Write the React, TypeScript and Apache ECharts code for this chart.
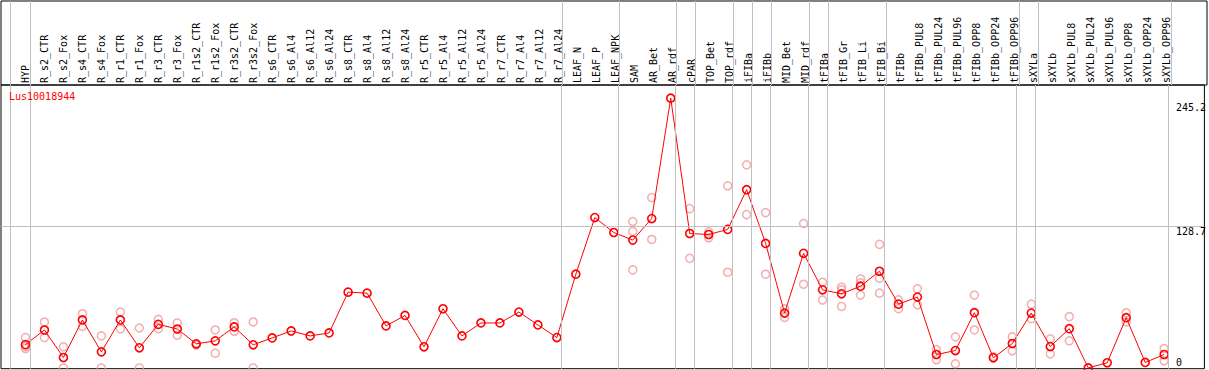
import React, { useEffect, useRef } from "react";
import * as echarts from "echarts";

const categories = [
  "HYP", "R_s2_CTR", "R_s2_Fox", "R_s4_CTR", "R_s4_Fox", "R_r1_CTR", "R_r1_Fox", "R_r3_CTR", "R_r3_Fox",
  "R_r1s2_CTR", "R_r1s2_Fox", "R_r3s2_CTR", "R_r3s2_Fox", "R_s6_CTR", "R_s6_Al4", "R_s6_Al12", "R_s6_Al24",
  "R_s8_CTR", "R_s8_Al4", "R_s8_Al12", "R_s8_Al24", "R_r5_CTR", "R_r5_Al4", "R_r5_Al12", "R_r5_Al24",
  "R_r7_CTR", "R_r7_Al4", "R_r7_Al12", "R_r7_Al24", "LEAF_N", "LEAF_P", "LEAF_NPK", "SAM", "AR_Bet", "AR_rdf",
  "cPAR", "TOP_Bet", "TOP_rdf", "iFIBa", "iFIBb", "MID_Bet", "MID_rdf", "tFIBa", "tFIB_Gr", "tFIB_Li", "tFIB_Bi",
  "tFIBb", "tFIBb_PUL8", "tFIBb_PUL24", "tFIBb_PUL96", "tFIBb_OPP8", "tFIBb_OPP24", "tFIBb_OPP96",
  "sXYLa", "sXYLb", "sXYLb_PUL8", "sXYLb_PUL24", "sXYLb_PUL96", "sXYLb_OPP8", "sXYLb_OPP24", "sXYLb_OPP96",
];

const meanValues = [
  21.2, 34.5, 9.5, 43.6, 14.6, 43.6, 18.3, 39.6, 35.4, 21.9, 24.6, 37.3, 21.0, 27.3, 33.6, 29.1, 31.8,
  68.9, 68.0, 38.2, 47.7, 19.2, 53.8, 29.1, 40.9, 40.9, 50.8, 39.1, 27.6, 85.2, 136.7, 123.1, 116.2, 135.8, 245.2,
  122.2, 121.3, 125.9, 162.0, 113.2, 49.9, 104.2, 71.0, 67.4, 74.3, 87.9,
  58.0, 64.4, 12.2, 15.8, 50.2, 9.2, 22.2,
  49.9, 19.4, 35.7, 0, 4.7, 45.7, 5.0, 12.2,
];

const replicateValues: number[][] = [
  [27.6, 19.4, 17.6], [41.8, 27.6], [19.2, 0], [49.3, 37.8], [29.1, 0], [50.8, 35.4], [36.3, 0], [44.1, 35.7], [40.9, 29.7],
  [21.2, 20.8], [34.5, 13.4], [41.1, 33.3], [41.8, 0], [], [], [], [],
  [], [], [], [], [], [], [], [],
  [], [], [], [], [], [], [], [133.1, 124.1, 89.1], [154.8, 116.8], [],
  [144.8, 99.6], [123.7, 118.3], [165.6, 87.0], [184.6, 139.4], [141.2, 85.2], [53.8, 45.9], [131.3, 76.1], [77.9, 61.7], [73.4, 71.0, 55.9], [80.9, 77.3, 66.2], [112.3, 81.6, 68.0],
  [61.9, 53.8], [71.9, 57.4], [16.7, 7.4], [28.2, 3.8], [66.2, 34.5], [10.4], [28.2, 15.6],
  [58.0, 44.8], [26.4, 12.8], [46.6, 24.6], [], [], [50.2, 41.8], [], [17.6, 6.5],
];

const groupEnds = [
  "HYP", "R_r7_Al24", "LEAF_NPK", "AR_rdf", "cPAR", "TOP_rdf", "iFIBa", "iFIBb", "MID_rdf", "tFIBa",
  "tFIB_Bi", "tFIBb_OPP96", "sXYLa", "sXYLb_OPP96",
];

const yTickValues = [0, 128.7, 245.2];
const geneName = "Lus10018944";

const FONT = "'DejaVu Sans Mono', monospace";

export default function App() {
  const ref = useRef<HTMLDivElement>(null);
  useEffect(() => {
    if (!ref.current) return;
    const chart = echarts.init(ref.current, null, { renderer: "svg" });
    const xMin = -1.289;
    const xMax = 62.12;
    const sepPositions = [-0.8, ...groupEnds.map((n) => categories.indexOf(n) + 0.23)];
    const sepStyle = { color: "#c0c0c0", width: 1, type: "solid" as const };
    const markLineBase = {
      silent: true,
      symbol: ["none", "none"],
      label: { show: false },
      emphasis: { disabled: true },
      animation: false,
    };
    const repData: number[][] = [];
    replicateValues.forEach((vals, i) => vals.forEach((v) => repData.push([i, v])));

    chart.setOption({
      animation: false,
      backgroundColor: "#ffffff",
      title: {
        text: geneName,
        left: 9,
        top: 91,
        padding: 0,
        textStyle: { color: "#ff0000", fontFamily: FONT, fontSize: 10, fontWeight: "normal" },
      },
      grid: [
        { left: 1, right: 2, top: 1, height: 84, show: true, borderColor: "#000", borderWidth: 1, backgroundColor: "transparent" },
        { left: 1, right: 2, top: 85, bottom: 1.3, show: true, borderColor: "#000", borderWidth: 1, backgroundColor: "transparent" },
      ],
      xAxis: [
        {
          gridIndex: 0,
          type: "value",
          min: xMin,
          max: xMax,
          position: "bottom",
          axisLine: { show: false },
          axisTick: { show: false },
          splitLine: { show: false },
          axisLabel: {
            inside: true,
            rotate: 90,
            margin: 2,
            customValues: categories.map((_, i) => i),
            formatter: (v: number) => categories[Math.round(v)] ?? "",
            color: "#000",
            fontFamily: FONT,
            fontSize: 10,
            showMinLabel: true,
            showMaxLabel: true,
          },
        },
        {
          gridIndex: 1,
          type: "value",
          min: xMin,
          max: xMax,
          axisLine: { show: false },
          axisTick: { show: false },
          splitLine: { show: false },
          axisLabel: { show: false },
        },
      ],
      yAxis: [
        {
          gridIndex: 0,
          type: "value",
          min: 0,
          max: 1,
          show: false,
        },
        {
          gridIndex: 1,
          type: "value",
          min: -0.7,
          max: 257.2,
          position: "right",
          axisLine: { show: false },
          axisTick: { show: false },
          splitLine: { show: false },
          axisLabel: {
            inside: true,
            align: "left",
            margin: 28.5,
            customValues: yTickValues,
            formatter: (v: number) => (v === 0 ? "{b|0}" : v > 200 ? "{t|" + v + "}" : "{m|" + v + "}"),
            color: "#000",
            fontFamily: FONT,
            fontSize: 10,
            rich: {
              t: { fontFamily: FONT, fontSize: 10, color: "#000", padding: [18, 0, 0, 0] },
              m: { fontFamily: FONT, fontSize: 10, color: "#000", padding: [11, 0, 0, 0] },
              b: { fontFamily: FONT, fontSize: 10, color: "#000", padding: [0, 0, 10, 0] },
            },
          },
        },
      ],
      series: [
        {
          type: "line",
          xAxisIndex: 0,
          yAxisIndex: 0,
          data: sepPositions.map((p) => [p, 0.5]),
          symbol: "none",
          lineStyle: { width: 0, opacity: 0 },
          silent: true,
          markLine: { ...markLineBase, lineStyle: sepStyle, data: sepPositions.map((p) => ({ xAxis: p })) },
        },
        {
          type: "scatter",
          xAxisIndex: 1,
          yAxisIndex: 1,
          data: repData,
          symbol: "circle",
          symbolSize: 8,
          itemStyle: { color: "rgba(0,0,0,0)", borderColor: "#f09a9a", borderWidth: 1.5 },
          silent: true,
          z: 2,
          markLine: {
            ...markLineBase,
            lineStyle: sepStyle,
            data: [...sepPositions.map((p) => ({ xAxis: p })), { yAxis: 128.7 }],
          },
        },
        {
          type: "line",
          xAxisIndex: 1,
          yAxisIndex: 1,
          data: meanValues.map((v, i) => [i, v]),
          symbol: "circle",
          symbolSize: 8,
          showSymbol: true,
          lineStyle: { color: "#ff0000", width: 1 },
          itemStyle: { color: "rgba(0,0,0,0)", borderColor: "#ff0000", borderWidth: 1.6 },
          silent: true,
          z: 3,
        },
      ],
    });
    return () => chart.dispose();
  }, []);
  return <div ref={ref} style={{ position: "absolute", left: 0, top: 0, width: 1209, height: 370 }} />;
}
